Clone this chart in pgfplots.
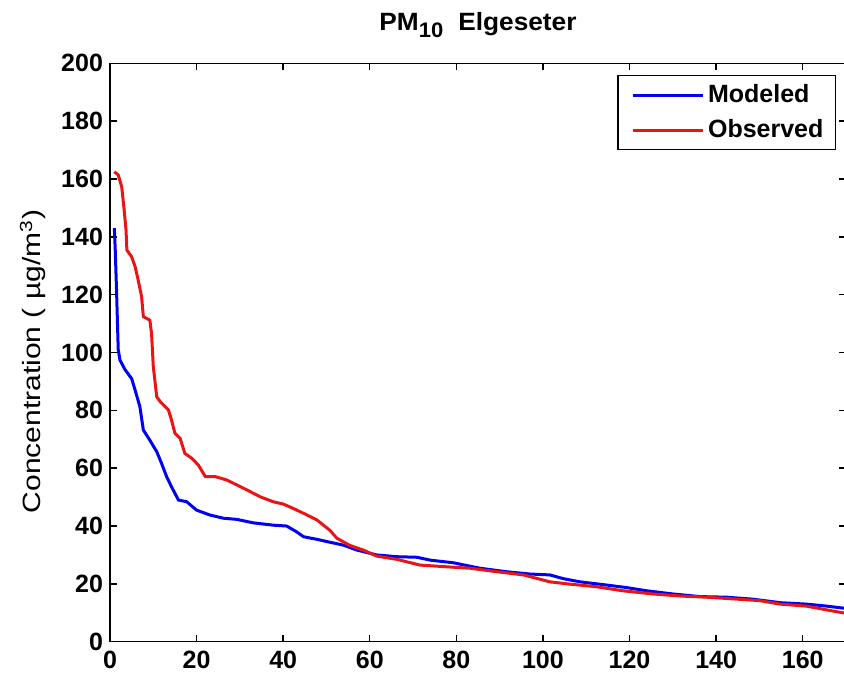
\documentclass[border=0pt]{standalone}
\usepackage{fontspec}
\setmainfont{Liberation Sans}
\usepackage{pgfplots}
\pgfplotsset{compat=1.18}
\begin{document}
\begin{tikzpicture}
\begin{axis}[
  scale only axis,
  width=368pt, height=289.2pt,
  xmin=0, xmax=170, ymin=0, ymax=200,
  xtick={0,20,...,160}, ytick={0,20,...,200},
  tick align=inside, major tick length=3.5pt,
  axis line style={line width=0.7pt},
  every tick/.style={black, line width=0.7pt},
  /pgf/number format/assume math mode=true,
  tick label style={font=\bfseries\fontsize{12.5}{15}\selectfont},
  xticklabel style={yshift=-1pt},
  title={\bfseries PM\raisebox{-0.6ex}{\fontsize{10.5}{12}\selectfont 10}\hspace{0.6em}Elgeseter},
  title style={font=\fontsize{12.5}{15}\selectfont\addfontfeature{FakeStretch=1.05}, at={(axis description cs:0.5,1)}, anchor=base, yshift=10.65pt},
  ylabel={Concentration ( µg/m\textsuperscript{3})},
  ylabel style={font=\fontsize{12.5}{15}\selectfont\addfontfeature{FakeStretch=1.2}, at={(axis description cs:-0.1046,0.4844)}, anchor=center},
  legend style={draw=black, line width=0.6pt, font=\bfseries\fontsize{12.5}{15}\selectfont,
    at={(1,1)}, anchor=north east, xshift=-5pt, yshift=-5.85pt,
    inner xsep=4pt, inner ysep=2.5pt, row sep=3pt, cells={anchor=west}},
  legend image code/.code={\path (-2.5pt,0pt); \draw[#1] (0pt,0pt) -- (35pt,0pt);},
]
\addplot[color={rgb,1:red,0;green,0;blue,0.95}, line width=1.5pt] coordinates {
(1,143) (1.2,136) (1.5,122) (1.9,101) (2.3,97.4) (3.5,94) (5,91) (5.8,87) (6.9,81.3) (7.7,73.2) (9.2,69.7) (10.8,65.7) (11.9,61.7) (13.1,57) (14.2,53.6) (15.8,49) (17.7,48.4) (20,45.5) (23.1,43.8) (26.2,42.7) (29.3,42.3) (33.1,41.1) (37.7,40.3) (40.8,40) (43.1,38) (44.7,36.3) (47.8,35.4) (50.8,34.4) (53.9,33.4) (57,31.7) (61.6,30) (66.2,29.4) (70.9,29.2) (74,28.2) (79.3,27.3) (85.5,25.4) (91.6,24.2) (97,23.4) (101.6,23.1) (104.7,21.8) (108.6,20.7) (114.7,19.6) (119.4,18.7) (124,17.6) (130.1,16.5) (136.3,15.6) (142.4,15.4) (148.6,14.7) (154.8,13.5) (160.9,13) (165.6,12.3) (170,11.5)
};
\addlegendentry{Modeled}
\addplot[color={rgb,1:red,0.92;green,0.08;blue,0.08}, line width=1.5pt] coordinates {
(1,162.5) (1.9,161.4) (2.7,157.3) (3.2,150.4) (3.7,142.4) (3.9,135.4) (5,133.1) (5.8,129.7) (6.5,125.1) (7.3,119.3) (7.7,112.4) (9.2,111.2) (9.6,106.6) (10,95.1) (10.8,84.7) (11.6,83) (13.5,80.1) (14.2,76.7) (15,72.1) (16.2,70.3) (17.3,65.1) (18.9,63.4) (20.4,61.1) (22,57.1) (24.3,57.1) (27,55.9) (29.3,54.2) (31.6,52.5) (34.7,50.1) (37.7,48.4) (40,47.6) (42.3,46.1) (44.7,44.4) (47.8,42.1) (50.8,38.5) (52.4,35.8) (55.4,33.3) (58.5,31.7) (61.6,29.6) (66.2,28.5) (71.6,26.5) (77.8,25.9) (83.2,25.4) (89.3,24.2) (95.5,23.1) (101.6,20.7) (106.3,19.9) (112.4,19) (118.5,17.6) (125.5,16.5) (131.7,15.8) (137.8,15.4) (144,14.8) (150.1,14.2) (154.8,13) (160.9,12.3) (165.6,11) (170,9.8)
};
\addlegendentry{Observed}
\end{axis}
\pgfresetboundingbox
\path[use as bounding box] ([xshift=-55pt,yshift=-17.65pt]current axis.south west) rectangle ++(422pt,338.5pt);
\end{tikzpicture}
\end{document}
